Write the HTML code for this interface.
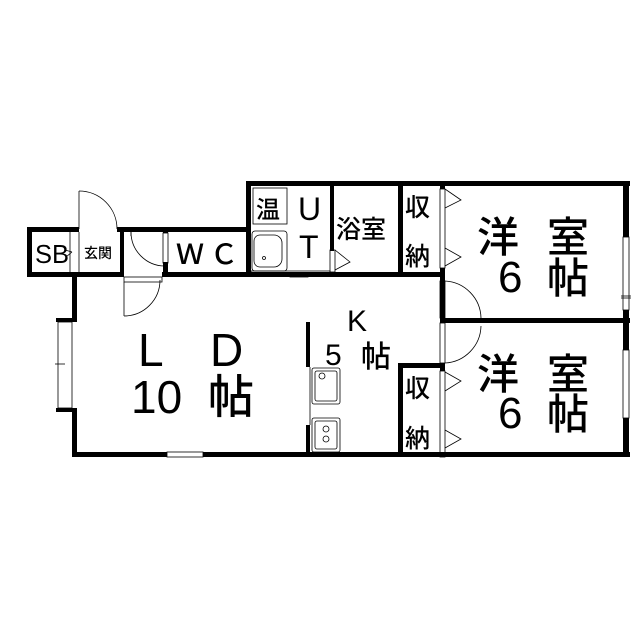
<!DOCTYPE html>
<html><head><meta charset="utf-8"><style>
html,body{margin:0;padding:0;background:#fff}
svg{display:block}
text{font-family:"Liberation Sans","Noto Sans CJK JP",sans-serif;fill:#000;font-weight:500}
</style></head><body>
<svg width="640" height="640" viewBox="0 0 640 640" xmlns="http://www.w3.org/2000/svg">
<g fill="#000">
<rect x="27" y="227" width="52" height="5"/>
<rect x="117" y="227" width="133" height="5"/>
<rect x="27" y="227" width="5" height="50"/>
<rect x="27" y="272" width="97" height="5"/>
<rect x="162" y="272" width="283" height="5"/>
<rect x="120" y="230" width="4" height="45"/>
<rect x="163" y="228" width="5" height="5"/>
<rect x="163" y="262" width="5" height="12"/>
<rect x="246" y="181" width="384" height="5"/>
<rect x="246" y="181" width="5" height="96"/>
<rect x="330" y="181" width="4" height="70"/>
<rect x="398" y="181" width="5" height="96"/>
<rect x="440" y="181" width="5" height="8"/>
<rect x="440" y="268" width="5" height="55"/>
<rect x="440" y="318" width="190" height="5"/>
<rect x="623" y="181" width="6" height="56"/>
<rect x="623" y="310" width="6" height="40"/>
<rect x="623" y="418" width="6" height="39"/>
<rect x="398" y="363" width="47" height="5"/>
<rect x="398" y="363" width="5" height="94"/>
<rect x="440" y="363" width="5" height="8"/>
<rect x="72" y="275" width="5" height="47"/>
<rect x="56" y="318" width="21" height="4"/>
<rect x="56" y="408" width="21" height="4"/>
<rect x="72" y="408" width="5" height="49"/>
<rect x="72" y="452" width="95" height="5"/>
<rect x="203" y="452" width="427" height="5"/>
<rect x="306" y="322" width="4" height="45"/>
<rect x="306" y="425" width="4" height="32"/>
</g>
<g fill="none" stroke="#000" stroke-width="0.8">
<line x1="79" y1="191" x2="79" y2="229"/>
<path d="M79 191 A38 38 0 0 1 117 229"/>
<line x1="70" y1="232" x2="70" y2="272"/>
<line x1="79" y1="232" x2="79" y2="272"/>
<path d="M72 252 L65 250 M72 252 L66 257"/>
<path d="M131 232 A34 34 0 0 0 165 266"/>
<line x1="131" y1="232" x2="131" y2="236"/>
<rect x="163" y="233" width="5" height="30"/>
<rect x="124" y="277" width="38" height="5"/>
<line x1="124" y1="282" x2="124" y2="316"/>
<path d="M124 316 A36 36 0 0 0 160 280"/>
<rect x="252" y="231" width="35" height="40" rx="3"/>
<path d="M260 235 h14 a8 8 0 0 1 8 8 v16 a8 8 0 0 1 -8 8 h-14 a6 6 0 0 1 -6 -6 v-20 a6 6 0 0 1 6 -6 z"/>
<circle cx="264" cy="258" r="1.5"/>
<rect x="253" y="188" width="34" height="36"/>
<rect x="251" y="271" width="79" height="5"/>
<rect x="290" y="274" width="18" height="3"/>
<rect x="330" y="250" width="5" height="22"/>
<path d="M335 250 L350 262 L335 270"/>
<rect x="440" y="189" width="5" height="79"/>
<path d="M445 189 L461 200 L445 208 M445 248 L461 257 L445 266"/>
<rect x="440" y="281" width="5" height="37"/>
<path d="M445 281 A38 38 0 0 1 481 318"/>
<rect x="440" y="323" width="5" height="40"/>
<path d="M445 363 A38 38 0 0 0 481 326"/>
<rect x="440" y="371" width="5" height="86"/>
<path d="M445 372 L461 381 L445 391 M445 430 L461 439 L445 448"/>
<rect x="623" y="237" width="6" height="73"/>
<rect x="623" y="350" width="6" height="68"/>
<line x1="621" y1="298" x2="631" y2="298"/><line x1="621" y1="296" x2="631" y2="296"/>
<rect x="58" y="322" width="14" height="86"/>
<line x1="55" y1="364" x2="65" y2="364"/>
<rect x="167" y="452" width="36" height="5"/>
<line x1="310" y1="367" x2="310" y2="425"/>
<rect x="312" y="368" width="28" height="36" rx="2"/>
<rect x="315" y="371" width="22" height="30" rx="2"/>
<circle cx="322" cy="376" r="3"/>
<rect x="312" y="418" width="28" height="34" rx="2"/>
<rect x="315" y="421" width="22" height="28" rx="2"/>
<circle cx="326" cy="429" r="3"/><circle cx="326" cy="439" r="3"/>
</g>
<text x="35" y="263" font-size="26" textLength="34" lengthAdjust="spacingAndGlyphs">SB</text>
<text x="84" y="258" font-size="14">玄関</text>
<text x="176" y="264" font-size="28" letter-spacing="6">ＷＣ</text>
<text x="256" y="218" font-size="24">温</text>
<text x="298" y="220" font-size="32">U</text>
<text x="299" y="258" font-size="32">T</text>
<text x="336" y="238" font-size="25">浴室</text>
<text x="405" y="216" font-size="25">収</text>
<text x="405" y="265" font-size="25">納</text>
<text x="405" y="397" font-size="25">収</text>
<text x="405" y="447" font-size="25">納</text>
<text x="477" y="252" font-size="42">洋</text>
<text x="547" y="252" font-size="42">室</text>
<text x="498" y="292" font-size="44">6</text>
<text x="547" y="293" font-size="42">帖</text>
<text x="477" y="389" font-size="42">洋</text>
<text x="547" y="389" font-size="42">室</text>
<text x="498" y="428" font-size="44">6</text>
<text x="547" y="429" font-size="42">帖</text>
<text x="347" y="331" font-size="30">K</text>
<text x="325" y="365" font-size="30">5</text>
<text x="361" y="367" font-size="30">帖</text>
<text x="138" y="366" font-size="46">L</text>
<text x="210" y="366" font-size="46">D</text>
<text x="131" y="413" font-size="46">10</text>
<text x="208" y="413" font-size="46">帖</text>
</svg>
</body></html>
